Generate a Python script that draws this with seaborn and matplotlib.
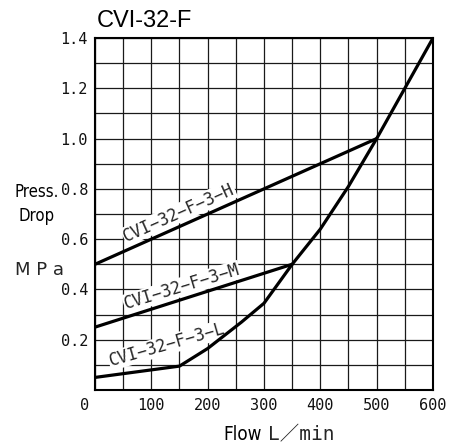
import matplotlib
matplotlib.use("Agg")
import matplotlib.pyplot as plt
import matplotlib.transforms as mtransforms
from matplotlib.ticker import MultipleLocator
import seaborn as sns
import pandas as pd

# ---- data ----
flow_H = [0, 500]
drop_H = [0.5, 1.0]
flow_M = [0, 350]
drop_M = [0.25, 0.5]
flow_L = [0, 150, 200, 260, 300, 350, 400, 450, 500, 550, 600]
drop_L = [0.05, 0.095, 0.165, 0.27, 0.345, 0.5, 0.64, 0.81, 1.0, 1.2, 1.4]

x_ticks = [0, 100, 200, 300, 400, 500, 600]
y_ticks = [0.2, 0.4, 0.6, 0.8, 1.0, 1.2, 1.4]
series_names = ["CVI−32−F−3−H", "CVI−32−F−3−M", "CVI−32−F−3−L"]
title = "CVI-32-F"

sns.set_style("white")
plt.rcParams["font.family"] = ["DejaVu Sans Mono", "Noto Sans CJK JP"]

fig = plt.figure(figsize=(4.64, 4.48), dpi=100)
ax = fig.add_axes([95 / 464, 58 / 448, 338 / 464, 352 / 448])

df = pd.concat([
    pd.DataFrame({"flow": flow_H, "drop": drop_H, "s": "H"}),
    pd.DataFrame({"flow": flow_M, "drop": drop_M, "s": "M"}),
    pd.DataFrame({"flow": flow_L, "drop": drop_L, "s": "L"}),
])
for s in ["H", "M", "L"]:
    sns.lineplot(data=df[df["s"] == s], x="flow", y="drop", color="black",
                 linewidth=2.3, ax=ax, zorder=4, sort=False, estimator=None)

ax.set_xlim(0, 600)
ax.set_ylim(0, 1.4)
ax.xaxis.set_major_locator(MultipleLocator(100))
ax.xaxis.set_minor_locator(MultipleLocator(50))
ax.yaxis.set_major_locator(MultipleLocator(0.2))
ax.yaxis.set_minor_locator(MultipleLocator(0.1))
ax.set_xticks(x_ticks)
ax.set_xticklabels([str(v) for v in x_ticks])
ax.set_yticks(y_ticks)
ax.set_yticklabels([f"{v:.1f}" for v in y_ticks])
ax.grid(True, which="both", color="#1a1a1a", linewidth=0.9)
ax.set_axisbelow(True)
ax.tick_params(axis="both", which="both", length=0, labelsize=11, colors="#111")
ax.tick_params(axis="x", pad=6)
ax.tick_params(axis="y", pad=5)
for sp in ax.spines.values():
    sp.set_color("black")
    sp.set_linewidth(1.5)
ax.set_xlabel("")
ax.set_ylabel("")

# shift the "0" label to the left
lbl0 = ax.get_xticklabels()[0]
lbl0.set_transform(lbl0.get_transform() + mtransforms.ScaledTranslation(-10 / 100, 0, fig.dpi_scale_trans))

# series labels
label_props = dict(fontsize=12, ha="center", va="center", rotation_mode="anchor",
                   bbox=dict(fc="white", ec="none", pad=0.5), zorder=3,
                   family=["DejaVu Sans Mono", "DejaVu Sans"])
ax.text(149, 0.704, series_names[0], rotation=24, **label_props)
ax.text(154, 0.41, series_names[1], rotation=17, **label_props)
ax.text(128, 0.179, series_names[2], rotation=16, **label_props)

fig.text(97 / 464, 1 - 27 / 448, title, fontsize=17, family=["Liberation Sans", "DejaVu Sans"],
         ha="left", va="baseline", color="black")
narrow = dict(family=["DejaVu Sans"], fontstretch="condensed", ha="left", va="baseline", color="black")
fig.text(15 / 464, 1 - 197 / 448, "Press.", fontsize=12, **narrow)
fig.text(18 / 464, 1 - 221 / 448, "Drop", fontsize=12, **narrow)
fig.text(15 / 464, 1 - 275 / 448, "M P a", fontsize=13, family=["DejaVu Sans", "Noto Sans CJK JP"],
         ha="left", va="baseline")
fig.text(223 / 464, 1 - 440 / 448, "Flow", fontsize=13.5, **narrow)
fig.text(268 / 464, 1 - 440 / 448, "L／min", fontsize=14,
         family=["DejaVu Sans Mono", "Noto Sans CJK JP"], ha="left", va="baseline")

fig.savefig("out.png", dpi=100)
